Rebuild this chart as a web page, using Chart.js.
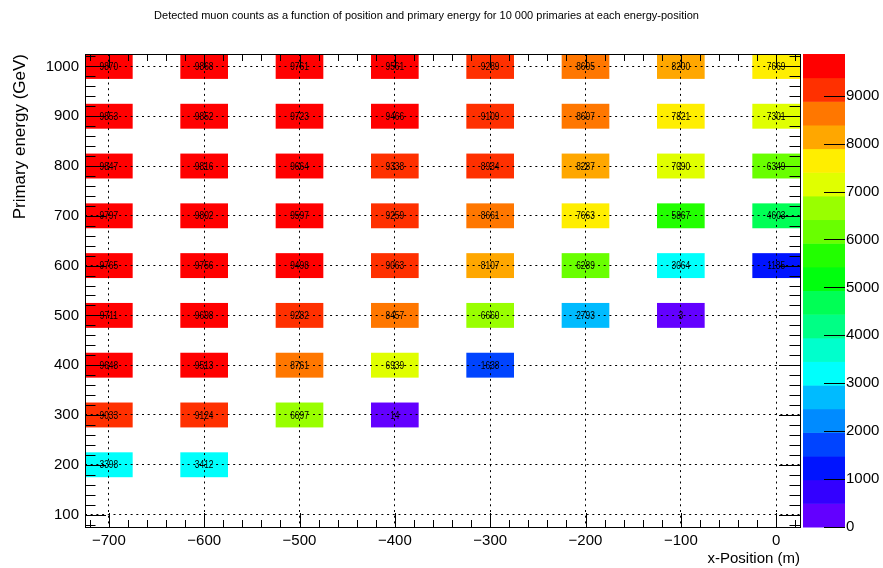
<!DOCTYPE html>
<html>
<head>
<meta charset="utf-8">
<script src="https://cdn.jsdelivr.net/npm/chart.js@4.4.0/dist/chart.umd.min.js"></script>
<style>
  html, body { margin: 0; padding: 0; background: #fff; }
  #wrap { width: 883px; height: 568px; }
</style>
</head>
<body>
<div id="wrap"><canvas id="muonChart" width="883" height="568"></canvas></div>
<script>
// bin centres
const xPositions = [-700, -600, -500, -400, -300, -200, -100, 0];
const energies = [1000, 900, 800, 700, 600, 500, 400, 300, 200];

// detected muon counts, one row per primary energy (null = empty bin)
const counts1000 = [9870, 9868, 9761, 9561, 9289, 8605, 8200, 7669];
const counts900  = [9853, 9852, 9723, 9466, 9109, 8607, 7821, 7301];
const counts800  = [9847, 9816, 9664, 9338, 8934, 8287, 7090, 6349];
const counts700  = [9797, 9802, 9597, 9259, 8661, 7663, 5867, 4603];
const counts600  = [9765, 9756, 9498, 9063, 8107, 6289, 3064, 1185];
const counts500  = [9711, 9698, 9282, 8457, 6660, 2793, 3, null];
const counts400  = [9648, 9513, 8761, 6939, 1638, null, null, null];
const counts300  = [9033, 9124, 6697, 14, null, null, null, null];
const counts200  = [3398, 3412, null, null, null, null, null, null];
const countRows = [counts1000, counts900, counts800, counts700, counts600,
                   counts500, counts400, counts300, counts200];

const xTickLabels = [-700, -600, -500, -400, -300, -200, -100, 0];
const yTickLabels = [100, 200, 300, 400, 500, 600, 700, 800, 900, 1000];
const zTickLabels = [0, 1000, 2000, 3000, 4000, 5000, 6000, 7000, 8000, 9000];

const zMax = 9870;
const nLevels = 20;
const binHalf = 25;
const FONT = '"Liberation Sans", Arial, sans-serif';

// ROOT "pretty" palette: 50 hues from violet to red, 20 contour levels picked from it
function levelColor(j) {
    const idx = Math.floor((j + 0.99) * 50 / nLevels);
    const hue = 280 - (idx + 1) * 5.6;
    return 'hsl(' + hue + ', 100%, 50%)';
}
function colorFor(v) {
    let j = Math.floor(v / (zMax / nLevels));
    if (j > nLevels - 1) j = nLevels - 1;
    return levelColor(j);
}

const cells = [];
countRows.forEach(function (row, i) {
    row.forEach(function (v, j) {
        if (v !== null) cells.push({x: xPositions[j], y: energies[i], v: v});
    });
});

function minus(v) {
    return v < 0 ? '\u2212' + (-v) : String(v);
}

const cellPlugin = {
    id: 'cells',
    afterLayout(chart) {
        // title is centred over frame + palette, not the whole canvas
        if (chart.titleBlock) chart.titleBlock.right = chart.scales.z.left + 53;
    },
    beforeDatasetsDraw(chart) {
        const ctx = chart.ctx, xs = chart.scales.x, ys = chart.scales.y, a = chart.chartArea;
        ctx.save();
        ctx.beginPath();
        ctx.rect(a.left, a.top, a.right - a.left, a.bottom - a.top);
        ctx.clip();
        cells.forEach(function (c) {
            const x0 = xs.getPixelForValue(c.x - binHalf);
            const x1 = xs.getPixelForValue(c.x + binHalf);
            const y0 = ys.getPixelForValue(c.y + binHalf);
            const y1 = ys.getPixelForValue(c.y - binHalf);
            ctx.fillStyle = colorFor(c.v);
            ctx.fillRect(x0, y0, x1 - x0, y1 - y0);
        });
        ctx.restore();
    },
    afterDraw(chart) {
        const ctx = chart.ctx, xs = chart.scales.x, ys = chart.scales.y, zs = chart.scales.z;
        const a = chart.chartArea;
        ctx.save();

        // bin contents
        ctx.fillStyle = '#000';
        ctx.font = '11px ' + FONT;
        ctx.textAlign = 'center';
        ctx.textBaseline = 'middle';
        cells.forEach(function (c) {
            const px = xs.getPixelForValue(c.x), py = ys.getPixelForValue(c.y);
            ctx.save();
            ctx.translate(px, py + 0.5);
            ctx.scale(0.76, 1);
            ctx.fillText(String(c.v), 0, 0);
            ctx.restore();
        });

        // frame and inner ticks
        ctx.strokeStyle = '#000';
        ctx.lineWidth = 1;
        ctx.beginPath();
        for (let v = -720; v <= 20; v += 20) {
            const px = Math.round(xs.getPixelForValue(v)) + 0.5;
            const len = v % 100 === 0 ? 14 : 7;
            ctx.moveTo(px, a.bottom); ctx.lineTo(px, a.bottom - len);
            ctx.moveTo(px, a.top); ctx.lineTo(px, a.top + len);
        }
        for (let v = 80; v <= 1020; v += 20) {
            const py = Math.round(ys.getPixelForValue(v)) + 0.5;
            const len = v % 100 === 0 ? 21 : 10.5;
            ctx.moveTo(a.left, py); ctx.lineTo(a.left + len, py);
            ctx.moveTo(a.right, py); ctx.lineTo(a.right - len, py);
        }
        ctx.stroke();
        ctx.strokeRect(Math.round(a.left) + 0.5, Math.round(a.top) + 0.5,
                       Math.round(a.right - a.left), Math.round(a.bottom - a.top));

        // colour bar
        const bx0 = zs.left + 3, bx1 = zs.left + 45;
        for (let j = 0; j < nLevels; j++) {
            const yb = zs.getPixelForValue(j * zMax / nLevels);
            const yt = zs.getPixelForValue((j + 1) * zMax / nLevels);
            ctx.fillStyle = levelColor(j);
            ctx.fillRect(bx0, yt, bx1 - bx0, yb - yt + 0.5);
        }
        ctx.beginPath();
        zTickLabels.forEach(function (v) {
            const py = Math.round(zs.getPixelForValue(v)) + 0.5;
            ctx.moveTo(bx1 - 21, py); ctx.lineTo(bx1, py);
        });
        ctx.stroke();
        ctx.restore();
    }
};

const axisFont = {family: FONT, size: 15};

new Chart(document.getElementById('muonChart'), {
    type: 'scatter',
    data: {
        datasets: [{
            label: 'counts',
            data: cells,
            pointRadius: 0,
            pointHoverRadius: 0
        }]
    },
    options: {
        responsive: false,
        animation: false,
        devicePixelRatio: 1,
        layout: {padding: 0},
        events: [],
        plugins: {
            legend: {display: false},
            tooltip: {enabled: false},
            title: {
                display: true,
                text: 'Detected muon counts as a function of position and primary energy for 10 000 primaries at each energy-position',
                color: '#000',
                font: {family: FONT, size: 11, weight: 'normal'},
                padding: {top: 9, bottom: 31.8}
            }
        },
        scales: {
            x: {
                type: 'linear',
                position: 'bottom',
                min: -725,
                max: 25,
                afterBuildTicks: function (s) { s.ticks = xTickLabels.map(function (v) { return {value: v}; }); },
                afterFit: function (s) { s.height = 41; },
                ticks: {
                    color: '#000', font: axisFont, padding: 5, maxRotation: 0, autoSkip: false,
                    callback: function (v) { return minus(v); }
                },
                grid: {color: '#000', lineWidth: 1, drawTicks: false, z: 1},
                border: {display: false, dash: [2, 3.7]},
                title: {display: true, text: 'x-Position (m)', align: 'end', color: '#000', font: axisFont, padding: 0}
            },
            y: {
                type: 'linear',
                position: 'left',
                min: 75,
                max: 1025,
                afterBuildTicks: function (s) { s.ticks = yTickLabels.map(function (v) { return {value: v}; }); },
                afterFit: function (s) { s.width = 85; s.paddingTop = 0; s.paddingBottom = 0; },
                ticks: {color: '#000', font: axisFont, padding: 6, autoSkip: false,
                        callback: function (v) { return String(v); }},
                grid: {color: '#000', lineWidth: 1, drawTicks: false, z: 1},
                border: {display: false, dash: [2, 3.7]},
                title: {display: true, text: 'Primary energy (GeV)', align: 'end', color: '#000',
                        font: {family: FONT, size: 17}, padding: {top: 10, bottom: 0}}
            },
            z: {
                type: 'linear',
                position: 'right',
                display: true,
                min: 0,
                max: zMax,
                afterBuildTicks: function (s) { s.ticks = zTickLabels.map(function (v) { return {value: v}; }); },
                afterFit: function (s) { s.width = 83; s.paddingTop = 0; s.paddingBottom = 0; },
                ticks: {color: '#000', font: axisFont, padding: 46, autoSkip: false,
                        callback: function (v) { return String(v); }},
                grid: {display: false, drawTicks: false},
                border: {display: false}
            }
        }
    },
    plugins: [cellPlugin]
});
</script>
</body>
</html>
